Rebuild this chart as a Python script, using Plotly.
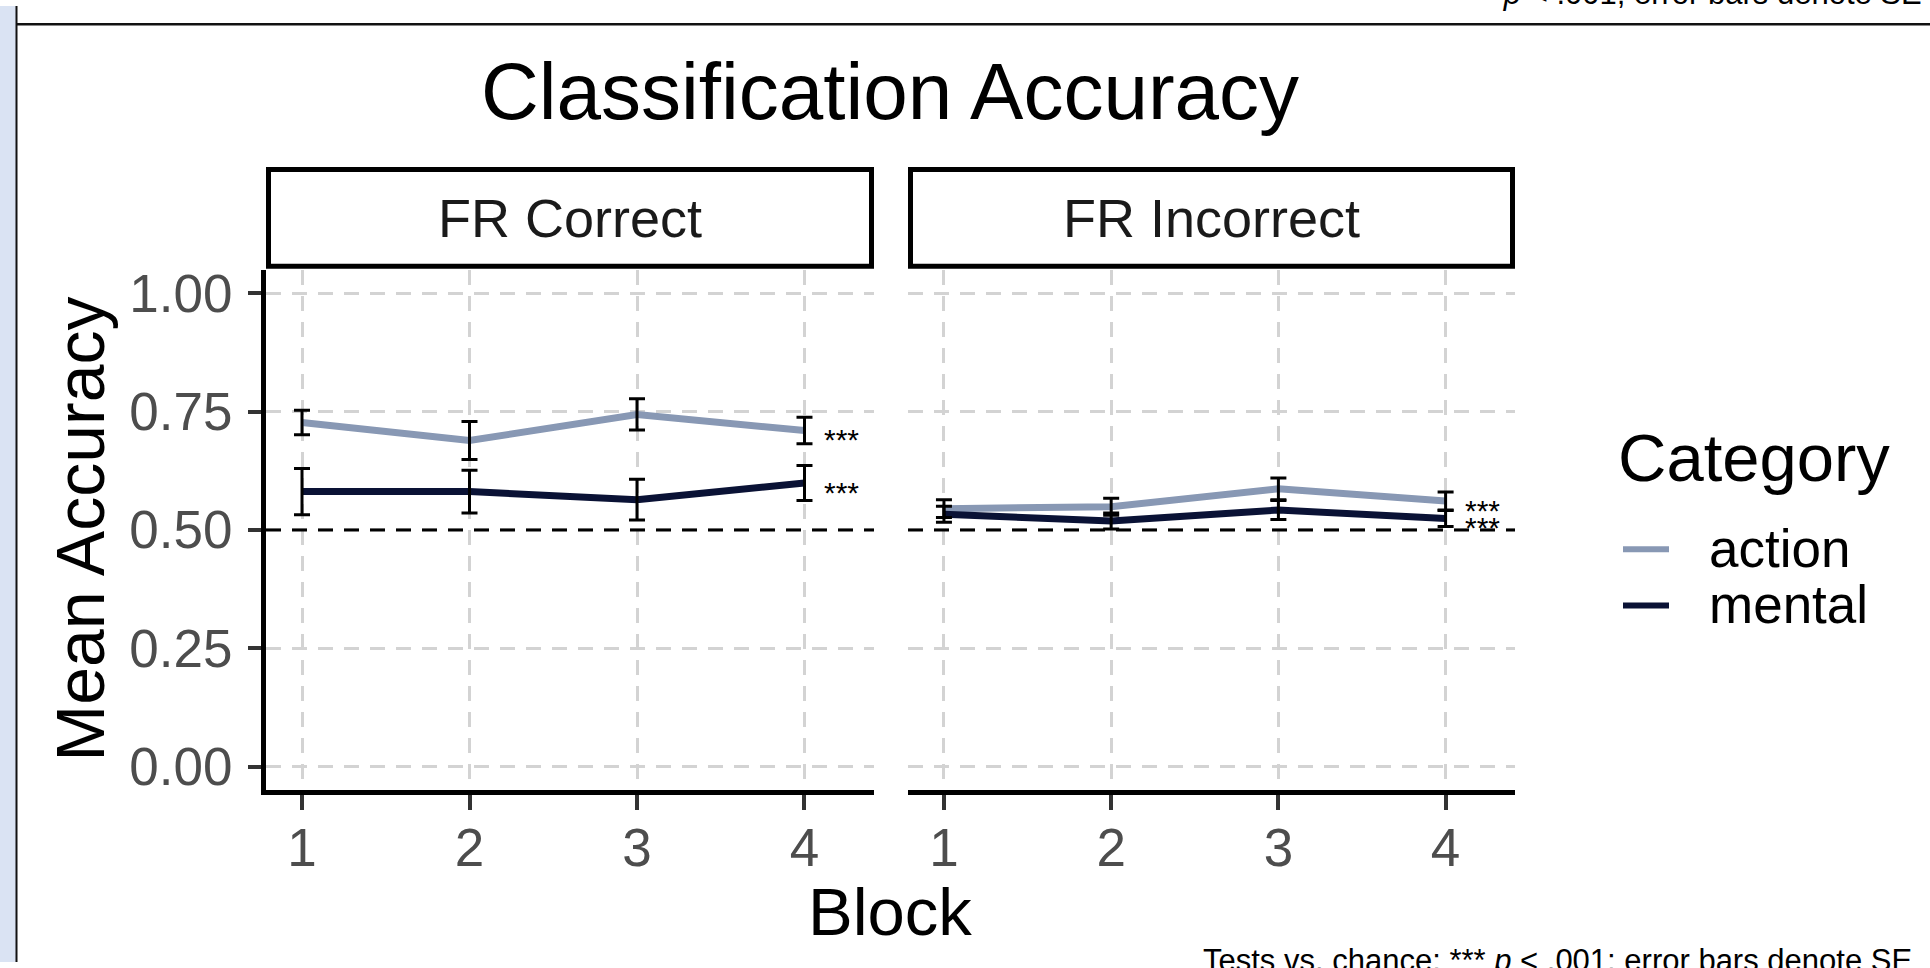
import plotly.graph_objects as go

W, H = 1930, 968

# ---------------- data ----------------
blocks = [1, 2, 3, 4]
block_labels = ["1", "2", "3", "4"]
panels = ["FR Correct", "FR Incorrect"]
categories = ["action", "mental"]

fr_correct_action = [0.727, 0.689, 0.744, 0.710]
fr_correct_action_se = [0.026, 0.040, 0.033, 0.028]
fr_correct_mental = [0.581, 0.581, 0.564, 0.599]
fr_correct_mental_se = [0.049, 0.045, 0.043, 0.037]

fr_incorrect_action = [0.545, 0.549, 0.587, 0.561]
fr_incorrect_action_se = [0.019, 0.018, 0.023, 0.019]
fr_incorrect_mental = [0.533, 0.519, 0.542, 0.524]
fr_incorrect_mental_se = [0.017, 0.017, 0.020, 0.017]

y_ticks = [0.0, 0.25, 0.5, 0.75, 1.0]
y_tick_labels = ["0.00", "0.25", "0.50", "0.75", "1.00"]
chance = 0.5
sig_label = "***"
sig_x = 4.22

title = "Classification Accuracy"
x_title = "Block"
y_title = "Mean Accuracy"
legend_title = "Category"
caption = "Tests vs. chance: *** <i>p</i> &lt; .001; error bars denote SE"
caption_tail = "*** <i>p</i> &lt; .001; error bars denote SE"

# ---------------- styles ----------------
FONT = "Liberation Sans, Arial, Helvetica, sans-serif"
colors = {"action": "#8898B4", "mental": "#0A1235"}


def px(x):
    return x / W


def py(y):
    return 1 - y / H


panel_series = [
    {"action": (fr_correct_action, fr_correct_action_se),
     "mental": (fr_correct_mental, fr_correct_mental_se)},
    {"action": (fr_incorrect_action, fr_incorrect_action_se),
     "mental": (fr_incorrect_mental, fr_incorrect_mental_se)},
]
axis_ids = [("x", "y"), ("x2", "y2")]

fig = go.Figure()

for (xa, ya), series in zip(axis_ids, panel_series):
    for cat in categories:
        vals, se = series[cat]
        fig.add_trace(go.Scatter(
            x=blocks, y=vals, mode="lines", name=cat,
            line=dict(color=colors[cat], width=7),
            xaxis=xa, yaxis=ya, showlegend=False, hoverinfo="skip"))
    for cat in categories:
        vals, se = series[cat]
        fig.add_trace(go.Scatter(
            x=blocks, y=vals, mode="markers", name=cat,
            marker=dict(size=1, color="rgba(0,0,0,0)"),
            error_y=dict(type="data", array=se, visible=True,
                         color="black", thickness=3, width=8),
            xaxis=xa, yaxis=ya, showlegend=False, hoverinfo="skip"))

grid = dict(showgrid=True, gridcolor="#D3D3D3", gridwidth=2.5,
            griddash="15px,11px", zeroline=False)
tickfont = dict(family=FONT, size=53, color="#4D4D4D")

ydom = [py(794), py(267)]
xaxis_common = dict(range=[0.785, 4.415], tickvals=blocks, ticktext=block_labels,
                    showline=True, linecolor="black", linewidth=5,
                    ticks="outside", ticklen=15, tickwidth=4, tickcolor="#333333",
                    tickfont=tickfont, ticklabelstandoff=-8, **grid)

fig.update_layout(
    width=W, height=H,
    margin=dict(l=0, r=0, t=0, b=0),
    paper_bgcolor="white", plot_bgcolor="white",
    showlegend=False,
    xaxis=dict(domain=[px(266), px(874)], anchor="y", **xaxis_common),
    xaxis2=dict(domain=[px(908), px(1515)], anchor="y2", **xaxis_common),
    yaxis=dict(domain=ydom, anchor="x", range=[-0.05, 1.05],
               tickvals=y_ticks, ticktext=y_tick_labels,
               showline=True, linecolor="black", linewidth=5,
               ticks="outside", ticklen=13, tickwidth=4, tickcolor="#333333",
               tickfont=tickfont, ticklabelstandoff=5, **grid),
    yaxis2=dict(domain=ydom, anchor="x2", range=[-0.05, 1.05], matches="y",
                tickvals=y_ticks, showticklabels=False, ticks="",
                showline=False, **grid),
)

shapes = []
# page frame elements
shapes.append(dict(type="rect", xref="paper", yref="paper",
                   x0=px(0), x1=px(16), y0=py(968), y1=py(0),
                   fillcolor="#DAE3F3", line=dict(width=0), layer="above"))
shapes.append(dict(type="line", xref="paper", yref="paper",
                   x0=px(16.5), x1=px(16.5), y0=py(968), y1=py(0),
                   line=dict(color="#111111", width=2), layer="above"))
shapes.append(dict(type="line", xref="paper", yref="paper",
                   x0=px(17), x1=px(1930), y0=py(18.5), y1=py(18.5),
                   line=dict(color="#111111", width=2.5), layer="above"))
# strip boxes
for x0, x1 in [(268.5, 871.5), (910.5, 1512.5)]:
    shapes.append(dict(type="rect", xref="paper", yref="paper",
                       x0=px(x0), x1=px(x1), y0=py(263.5), y1=py(165.5),
                       fillcolor="white", line=dict(color="black", width=5),
                       layer="above"))
# chance lines
for xa, ya in axis_ids:
    shapes.append(dict(type="line", xref=f"{xa} domain", yref=ya,
                       x0=0, x1=1, y0=chance, y1=chance,
                       line=dict(color="black", width=3, dash="15px,11px"),
                       layer="above"))
# legend keys
for cat, yk in zip(categories, [550, 607]):
    shapes.append(dict(type="line", xref="paper", yref="paper",
                       x0=px(1623), x1=px(1669), y0=py(yk), y1=py(yk),
                       line=dict(color=colors[cat], width=6), layer="above"))

annotations = []
annotations.append(dict(text=title, xref="paper", yref="paper",
                        x=px(890), y=py(87), xanchor="center", yanchor="middle",
                        showarrow=False, font=dict(family=FONT, size=80, color="black")))
for name, cx in zip(panels, [570, 1211.5]):
    annotations.append(dict(text=name, xref="paper", yref="paper",
                            x=px(cx), y=py(215), xanchor="center", yanchor="middle",
                            showarrow=False, font=dict(family=FONT, size=54, color="#1A1A1A")))
for (xa, ya), series in zip(axis_ids, panel_series):
    for cat in categories:
        vals, se = series[cat]
        annotations.append(dict(text=sig_label, xref=xa, yref=ya,
                                x=sig_x, y=vals[-1], xanchor="center", yanchor="middle",
                                yshift=-9, showarrow=False,
                                font=dict(family=FONT, size=30, color="black")))
annotations.append(dict(text=x_title, xref="paper", yref="paper",
                        x=px(890), y=py(917), xanchor="center", yanchor="middle",
                        showarrow=False, font=dict(family=FONT, size=67, color="black")))
annotations.append(dict(text=y_title, xref="paper", yref="paper",
                        x=px(80), y=py(530), xanchor="center", yanchor="middle",
                        textangle=-90, showarrow=False,
                        font=dict(family=FONT, size=68, color="black")))
annotations.append(dict(text=legend_title, xref="paper", yref="paper",
                        x=px(1616), y=py(457), xanchor="left", yanchor="middle",
                        showarrow=False, font=dict(family=FONT, size=67, color="black")))
for cat, yk in zip(categories, [549, 606]):
    annotations.append(dict(text=cat, xref="paper", yref="paper",
                            x=px(1707), y=py(yk), xanchor="left", yanchor="middle",
                            showarrow=False, font=dict(family=FONT, size=53, color="black")))
annotations.append(dict(text=caption, xref="paper", yref="paper",
                        x=px(1914), y=py(966), xanchor="right", yanchor="middle",
                        showarrow=False, font=dict(family=FONT, size=31, color="black")))
annotations.append(dict(text=caption_tail, xref="paper", yref="paper",
                        x=px(1457), y=py(-13), xanchor="left", yanchor="middle",
                        showarrow=False, font=dict(family=FONT, size=31, color="black")))

fig.update_layout(shapes=shapes, annotations=annotations)
fig.write_html("out.html", config={"displayModeBar": False},
               post_script="document.body.style.margin='0';document.body.style.overflow='hidden';")
